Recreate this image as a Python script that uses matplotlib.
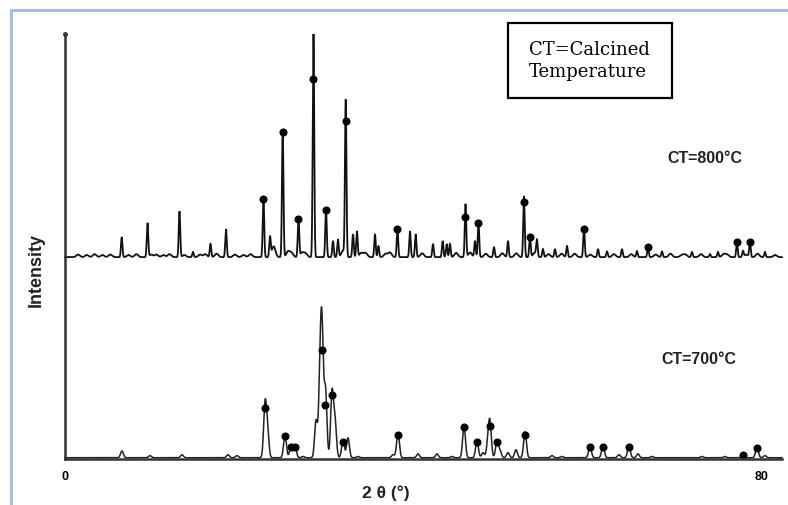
import numpy as np
import matplotlib
matplotlib.use("Agg")
import matplotlib.pyplot as plt
from matplotlib.lines import Line2D
from matplotlib.patches import Rectangle

# ---------------- data (2θ in degrees, intensity in arbitrary units) ----------------
# CT = 800 °C pattern (heights above its own baseline)
p800_pos = [6.51, 9.47, 13.14, 14.69, 16.70, 18.48, 22.78, 23.53, 24.99, 26.80,
            28.52, 29.96, 30.76, 31.33, 32.22, 33.06, 33.51, 35.58, 35.98, 38.16,
            39.60, 40.25, 42.24, 43.35, 43.81, 44.19, 45.97, 47.06, 47.46, 49.24,
            50.85, 52.68, 53.37, 54.17, 54.86, 56.24, 57.62, 59.57, 61.18, 62.21,
            63.93, 65.65, 66.92, 68.52, 71.97, 74.03, 74.95, 77.13, 77.82, 78.62,
            80.34]
p800_int = [4.7, 8.0, 10.8, 1.2, 3.1, 6.6, 14.1, 4.7, 30.1, 9.4,
            52.5, 11.3, 3.8, 4.2, 36.7, 5.4, 6.1, 5.4, 2.6, 6.6,
            6.1, 5.4, 3.1, 3.8, 3.1, 3.1, 12.5, 3.8, 8.2, 2.4,
            3.8, 14.4, 4.9, 3.8, 1.9, 1.9, 2.6, 7.1, 1.9, 1.4,
            1.9, 1.4, 2.4, 1.4, 1.2, 0.7, 1.2, 3.5, 1.4, 3.5,
            1.2]
# weak background reflections of the 800 °C pattern
w800_pos = [1.5, 2.5, 3.4, 4.3, 5.2, 7.3, 8.2, 10.5, 11.3, 12.0, 15.5, 17.4,
            19.5, 20.5, 21.3, 24.0, 26.0, 27.6, 34.5, 36.8, 37.3, 41.0, 44.9,
            48.3, 51.8, 55.5, 58.5, 60.3, 63.0, 67.8, 69.5, 70.8, 73.0, 76.0,
            79.5, 81.5, 9.9, 13.7, 16.1, 23.9, 25.6, 27.2, 31.9, 34.0, 46.5,
            50.2, 53.9, 57.0, 65.0, 71.2, 75.6, 78.2]
w800_int = [0.6, 0.5, 0.7, 0.5, 0.6, 0.5, 0.7, 0.6, 0.5, 0.7, 0.6, 0.8,
            0.6, 0.5, 0.7, 1.2, 1.0, 0.9, 1.0, 0.8, 1.1, 0.9, 1.0,
            0.8, 0.9, 0.7, 0.8, 0.6, 0.7, 0.6, 0.8, 0.5, 0.7, 0.6,
            0.8, 0.5, 0.6, 0.5, 0.7, 1.4, 1.3, 1.0, 1.5, 1.0, 1.1,
            0.9, 1.0, 0.8, 0.7, 0.6, 0.7, 0.6]
base800 = 47.5
mk800_pos = [22.78, 24.99, 26.80, 28.52, 29.96, 32.22, 38.16, 45.97, 47.46,
             52.68, 53.37, 59.57, 66.92, 77.13, 78.62]
mk800_int = [13.6, 29.5, 9.0, 42.0, 11.0, 32.0, 6.6, 9.4, 8.0,
             13.0, 4.7, 6.7, 2.4, 3.5, 3.5]

# CT = 700 °C pattern
p700_pos = [6.54, 9.76, 13.43, 18.71, 19.74, 22.96, 23.24, 25.25, 25.94, 26.40,
            27.32, 28.81, 29.27, 29.50, 29.90, 30.65, 30.99, 31.91, 32.48, 33.63,
            37.65, 38.22, 40.52, 42.70, 44.42, 45.80, 47.29, 47.98, 48.55, 48.78,
            49.58, 49.93, 50.85, 51.76, 52.80, 55.90, 57.04, 60.26, 61.75, 63.59,
            64.73, 65.77, 67.37, 73.11, 75.75, 77.82, 79.43, 80.34]
p700_int = [1.6, 0.5, 0.7, 0.7, 0.5, 12.2, 6.4, 5.4, 2.8, 2.8,
            0.3, 8.7, 16.9, 27.5, 15.8, 15.3, 8.7, 4.2, 4.7, 0.3,
            0.7, 5.9, 0.9, 0.9, 0.3, 7.5, 4.0, 1.2, 3.5, 7.8,
            4.0, 1.6, 1.2, 1.9, 6.1, 0.5, 0.3, 2.8, 2.8, 0.7,
            2.8, 0.9, 0.3, 0.3, 0.3, 0.7, 2.6, 0.5]
base700 = 0.3
mk700_pos = [22.96, 25.25, 25.94, 26.40, 29.50, 29.90, 30.65, 31.91, 38.22,
             45.80, 47.29, 48.78, 49.58, 52.80, 60.26, 61.75, 64.73, 77.82, 79.43]
mk700_int = [11.8, 5.2, 2.6, 2.6, 25.4, 12.5, 14.8, 3.8, 5.4,
             7.2, 3.8, 7.5, 3.8, 5.4, 2.5, 2.5, 2.6, 0.7, 2.4]

labels = ["CT=800°C", "CT=700°C"]
x_ticks = [0, 80]
x_label = "2 θ (°)"
y_label = "Intensity"
note = "CT=Calcined\nTemperature"

# ---------------- figure ----------------
W, H = 788, 506
fig = plt.figure(figsize=(W / 100, H / 100), dpi=100)

def fx(x):
    return x / W

def fy(y):
    return 1 - y / H

ax = fig.add_axes([fx(65), fy(460), fx(782) - fx(65), fy(35) - fy(460)])
ax.set_xlim(0, 82.3)
ax.set_ylim(0, 100)

two_theta = np.arange(0, 82.3, 0.01)

def profile(pos, inten, sigma):
    y = np.zeros_like(two_theta)
    for p, h in zip(pos, inten):
        y += h * np.exp(-0.5 * ((two_theta - p) / sigma) ** 2)
    return y

y800 = base800 + profile(p800_pos, p800_int, 0.085) + profile(w800_pos, w800_int, 0.2)
y700 = base700 + profile(p700_pos, p700_int, 0.16)

ax.plot(two_theta, y800, color="#111111", lw=1.3, clip_on=False, solid_joinstyle="miter")
ax.plot(two_theta, y700, color="#222222", lw=1.1, clip_on=False)

ax.plot(mk800_pos, np.array(mk800_int) + base800, "o", color="black", ms=4.8, clip_on=False)
ax.plot(mk700_pos, np.array(mk700_int) + base700, "o", color="black", ms=4.8, clip_on=False)

for s in ["top", "right"]:
    ax.spines[s].set_visible(False)
ax.spines["left"].set_linewidth(1.8)
ax.spines["bottom"].set_linewidth(1.8)
ax.spines["left"].set_color("#333333")
ax.spines["bottom"].set_color("#333333")
ax.set_yticks([])
ax.set_xticks(x_ticks)
ax.set_xticklabels([str(t) for t in x_ticks], fontsize=9, fontweight="bold",
                   family="Liberation Sans")
ax.tick_params(axis="x", length=0, pad=8)
ax.plot([0], [100], "o", color="#333333", ms=2.5, clip_on=False)

# series labels
ax.text(73.4, 1 + (460 - 163) / 4.25, labels[0], ha="center", va="center",
        fontsize=11.5, fontweight="bold", family="Liberation Sans", color="#222222")
ax.text(72.8, (460 - 360) / 4.25, labels[1], ha="center", va="center",
        fontsize=11.5, fontweight="bold", family="Liberation Sans", color="#222222")

# axis labels
fig.text(fx(36), fy(270), y_label, rotation=90, ha="center", va="center",
         fontsize=13, fontweight="bold", family="Liberation Sans", color="#222222")
fig.text(fx(386), fy(493), x_label, ha="center", va="center",
         fontsize=12.5, fontweight="bold", family="Liberation Sans", color="#222222")

# note box
fig.patches.append(Rectangle((fx(508), fy(99)), fx(672) - fx(508), fy(24) - fy(99),
                             transform=fig.transFigure, fill=False, lw=1.6,
                             edgecolor="black"))
fig.text(fx(529), fy(61), note, ha="left", va="center", fontsize=13,
         family="DejaVu Serif", linespacing=1.25, color="black")

# page frame lines
fig.lines.append(Line2D([fx(11), fx(11)], [fy(11), 0], transform=fig.transFigure,
                        color="#a9bed8", lw=2.2))
fig.lines.append(Line2D([fx(11), 1], [fy(11), fy(11)], transform=fig.transFigure,
                        color="#a9bed8", lw=2.2))

fig.savefig("out.png", dpi=100)
